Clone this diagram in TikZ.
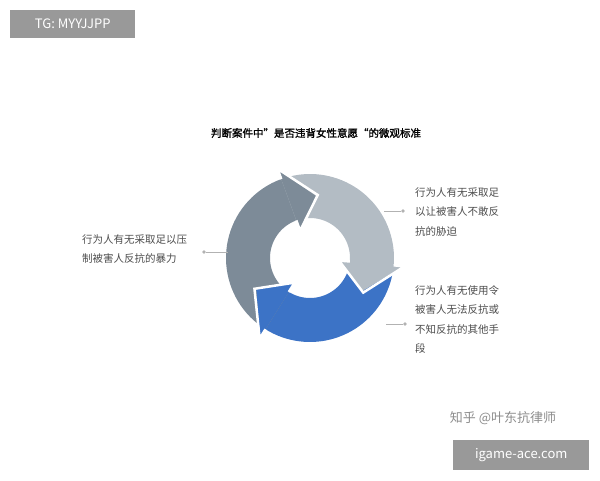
\documentclass[tikz,border=0pt]{standalone}
\usepackage{fontspec}
\setmainfont{Noto Sans CJK SC}
\newfontfamily\boldcjk[FakeBold=1.5]{Noto Sans CJK SC}
\definecolor{cdark}{HTML}{7D8B98}
\definecolor{clight}{HTML}{B3BCC4}
\definecolor{cblue}{HTML}{3C73C6}
\begin{document}
\begin{tikzpicture}[x=1pt,y=-1pt,
  lbl/.style={font=\fontsize{10.5}{19.5}\selectfont,text=black!70,align=left,anchor=north west,inner sep=0pt},
  conn/.style={draw=black!30,line width=0.8pt},
  dotc/.style={circle,fill=black!30,inner sep=1.3pt},
  wm/.style={fill=black!40,text=white,font=\fontsize{13}{15}\selectfont,inner sep=5pt}]
\useasboundingbox (0,0) rectangle (600,480);
\def\cx{310}\def\cy{258}\def\R{84}\def\r{40}
\newcommand\ringbody[3]{%
  \fill[#3]
   plot[domain=#1:#2,samples=40] ({\cx+\R*cos(\x)},{\cy-\R*sin(\x)})
   -- plot[domain=#2:#1,samples=40] ({\cx+\r*cos(\x)},{\cy-\r*sin(\x)}) -- cycle;}
\newcommand\ringhead[3]{%
  \fill[#3]
   ({\cx+(\R+10)*cos(#1)},{\cy-(\R+10)*sin(#1)})
   -- ({\cx+((\R+\r)/2)*cos(#2)},{\cy-((\R+\r)/2)*sin(#2)})
   -- ({\cx+(\r-10)*cos(#1)},{\cy-(\r-10)*sin(#1)}) -- cycle;
  \draw[white,line width=2.5pt,line join=miter]
   ({\cx+(\R)*cos(#1)},{\cy-(\R)*sin(#1)})
   -- ({\cx+(\R+11)*cos(#1)},{\cy-(\R+11)*sin(#1)})
   -- ({\cx+((\R+\r)/2+1.5)*cos(#2-1)},{\cy-((\R+\r)/2+1.5)*sin(#2-1)})
   -- ({\cx+(\r-11)*cos(#1)},{\cy-(\r-11)*sin(#1)})
   -- ({\cx+(\r)*cos(#1)},{\cy-(\r)*sin(#1)});}
\ringbody{-5}{-125}{cblue}
\ringbody{238}{107}{cdark}
\ringbody{110}{-8}{clight}
\ringhead{-122}{-150}{cblue}
\ringhead{110}{84}{cdark}
\ringhead{-5}{-32}{clight}
\node[font=\boldcjk\fontsize{10.5}{12}\selectfont] (title) at (316,133) {判断案件中”是否违背女性意愿“的微观标准};
\node[lbl] (t1) at (415,187) {行为人有无采取足\\以让被害人不敢反\\抗的胁迫};
\node[lbl] (t2) at (415,285) {行为人有无使用令\\被害人无法反抗或\\不知反抗的其他手\\段};
\node[lbl] (t3) at (82,234) {行为人有无采取足以压\\制被害人反抗的暴力};
\node[dotc] (d1) at (403,211) {};
\coordinate (c1) at (384,211);
\node[dotc] (d2) at (405,324) {};
\coordinate (c2) at (386,324);
\node[dotc] (d3) at (204,252) {};
\coordinate (c3) at (228,252);
\draw[conn] (c1) -- (d1);
\draw[conn] (c2) -- (d2);
\draw[conn] (d3) -- (c3);
\node[wm,anchor=north west,minimum width=125pt,minimum height=28pt] (w1) at (10,10) {TG: MYYJJPP};
\node[text=black!45,font=\fontsize{13}{15}\selectfont] (w2) at (503,418) {知乎 @叶东抗律师};
\node[wm,anchor=north west,minimum width=136pt,minimum height=30pt] (w3) at (453,440) {igame-ace.com};
\end{tikzpicture}
\end{document}
